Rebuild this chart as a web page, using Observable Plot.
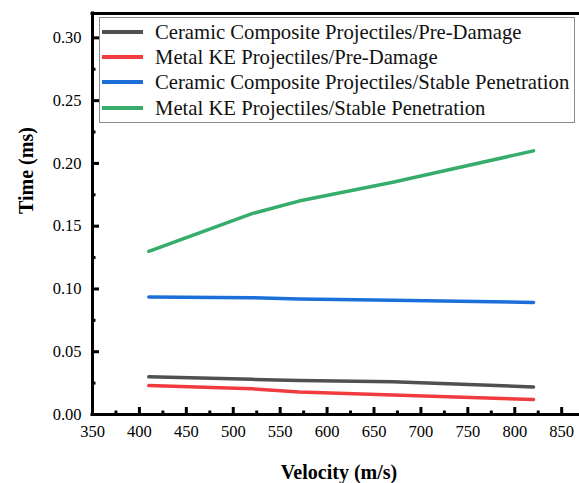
<!DOCTYPE html>
<html><head><meta charset="utf-8">
<script src="https://cdn.jsdelivr.net/npm/d3@7"></script>
<script src="https://cdn.jsdelivr.net/npm/@observablehq/plot@0.6"></script>
<style>
body{margin:0;background:#fff;}
#wrap{position:relative;width:579px;height:483px;overflow:hidden;}
#wrap svg, #wrap svg text{font-family:'Liberation Serif',serif !important;}
#legend{position:absolute;left:99px;top:17px;width:476px;height:106px;border:1px solid #8c8c8c;background:#fff;box-sizing:border-box;font-family:'Liberation Serif',serif;font-size:20.7px;color:#111;}
.row{position:absolute;left:0;height:24px;line-height:24px;white-space:nowrap;}
.sw{position:absolute;left:2px;top:10px;width:41px;height:4px;}
.lb{position:absolute;left:55px;top:0;}
</style></head>
<body><div id="wrap"><div id="legend"></div></div>
<script>
const velocities = [410, 520, 570, 670, 820];
const ceramicPre = [0.030, 0.028, 0.027, 0.026, 0.022];
const metalPre = [0.023, 0.0205, 0.018, 0.0155, 0.012];
const ceramicStable = [0.0935, 0.093, 0.092, 0.091, 0.0893];
const metalStable = [0.130, 0.160, 0.170, 0.185, 0.210];
const seriesNames = [
  "Ceramic Composite Projectiles/Pre-Damage",
  "Metal KE Projectiles/Pre-Damage",
  "Ceramic Composite Projectiles/Stable Penetration",
  "Metal KE Projectiles/Stable Penetration"
];
const seriesColors = ["#505050", "#f03c3f", "#1c6fd8", "#36ad6a"];
const xMajor = [350, 400, 450, 500, 550, 600, 650, 700, 750, 800, 850];
const xMinor = [375, 425, 475, 525, 575, 625, 675, 725, 775, 825];
const yMajor = [0, 0.05, 0.10, 0.15, 0.20, 0.25, 0.30];
const yMinor = [0.025, 0.075, 0.125, 0.175, 0.225, 0.275];
const xDomain = [350, 869];
const yDomain = [0, 0.3194];

const seriesValues = [ceramicPre, metalPre, ceramicStable, metalStable];
const table = [];
seriesNames.forEach((name, si) => {
  velocities.forEach((v, i) => table.push({series: name, v, t: seriesValues[si][i]}));
});

const font = "'Liberation Serif', serif";
const chart = Plot.plot({
  width: 579,
  height: 483,
  marginLeft: 92,
  marginRight: 0,
  marginTop: 13,
  marginBottom: 69,
  style: {fontFamily: font, fontSize: "16.5px", color: "#000", background: "#fff"},
  x: {domain: xDomain, axis: null},
  y: {domain: yDomain, axis: null},
  color: {domain: seriesNames, range: seriesColors},
  marks: [
    Plot.axisY({ticks: yMajor, tickSize: -7, strokeWidth: 3, tickFormat: () => "", label: null}),
    Plot.axisY({ticks: yMinor, tickSize: -3.5, strokeWidth: 3, tickFormat: () => "", label: null}),
    Plot.axisY({ticks: yMajor, tickSize: 0, tickPadding: 11, tickFormat: d3.format(".2f"), fontSize: 16.5, fontFamily: font, label: null}),
    Plot.axisX({ticks: xMajor, tickSize: -7, strokeWidth: 3, tickFormat: () => "", label: null}),
    Plot.axisX({ticks: xMinor, tickSize: -3.5, strokeWidth: 3, tickFormat: () => "", label: null}),
    Plot.axisX({ticks: xMajor, tickSize: 0, tickPadding: 11, tickFormat: d => String(d), fontSize: 16.5, fontFamily: font, label: null}),
    Plot.line(table, {x: "v", y: "t", stroke: "series", strokeWidth: 3.5}),
    Plot.ruleX([xDomain[0]], {strokeWidth: 3, strokeLinecap: "square"}),
    Plot.ruleY([yDomain[0]], {strokeWidth: 3, strokeLinecap: "square"}),
    Plot.ruleY([yDomain[1]], {strokeWidth: 3, strokeLinecap: "square"}),
    Plot.text(["Time (ms)"], {frameAnchor: "left", text: d => d, dx: -66, dy: 0, rotate: -90, fontSize: 20, fontWeight: "bold", fontFamily: font}),
    Plot.text(["Velocity (m/s)"], {frameAnchor: "bottom", text: d => d, dx: 3, dy: 64, lineAnchor: "bottom", fontSize: 20, fontWeight: "bold", fontFamily: font})
  ]
});
const wrap = document.getElementById("wrap");
wrap.insertBefore(chart, wrap.firstChild);

const legend = document.getElementById("legend");
const rowTops = [2, 27, 52, 78];
seriesNames.forEach((name, i) => {
  const row = document.createElement("div");
  row.className = "row";
  row.style.top = rowTops[i] + "px";
  row.innerHTML = `<div class="sw" style="background:${seriesColors[i]}"></div><div class="lb">${name}</div>`;
  legend.appendChild(row);
});
</script></body></html>
